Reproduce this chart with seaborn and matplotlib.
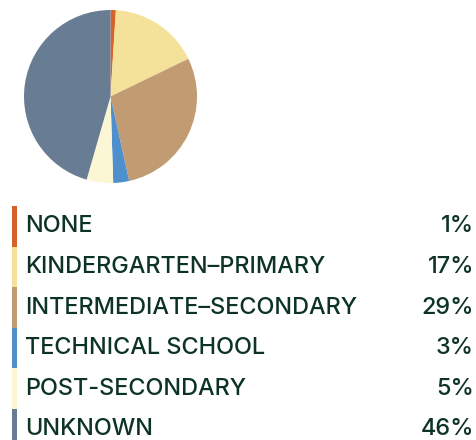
import numpy as np
import seaborn as sns
import matplotlib.pyplot as plt

categories = ["NONE", "KINDERGARTEN\u2013PRIMARY", "INTERMEDIATE\u2013SECONDARY",
              "TECHNICAL SCHOOL", "POST-SECONDARY", "UNKNOWN"]
shares = [1, 17, 29, 3, 5, 46]
colors = ["#d4622a", "#f4e19a", "#c19c73", "#4f8fcc", "#fbf6d3", "#687c93"]

sns.set_theme(style="white")
plt.rcParams["font.family"] = ["Inter", "DejaVu Sans"]
text_color = "#0d3327"

W, H = 476, 440
fig = plt.figure(figsize=(W / 100, H / 100), dpi=100)

# pie
ax = fig.add_axes([24 / W, 1 - 183 / H, 173 / W, 173 / H])
ax.pie(shares, colors=colors, startangle=90, counterclock=False,
       wedgeprops=dict(linewidth=0))
ax.set_xlim(-1, 1)
ax.set_ylim(-1, 1)
ax.set_aspect("equal")

# legend rows
row_h = 40.6
top = 206
n = len(categories)
lax = fig.add_axes([0, 1 - (top + n * row_h) / H, 1, n * row_h / H])
lax.set_xlim(0, W)
lax.set_ylim(n, 0)
lax.axis("off")
for i, (cat, val, col) in enumerate(zip(categories, shares, colors)):
    lax.barh(i + 0.5, 5, left=11.5, height=1.0, color=col, linewidth=0)
    lax.text(25, i + 0.5, cat, va="center", ha="left", fontsize=16.9,
             fontweight="medium", color=text_color)
    lax.text(474, i + 0.5, f"{val}%", va="center", ha="right", fontsize=16.9,
             fontweight="medium", color=text_color)

fig.savefig("out.png", dpi=100)
